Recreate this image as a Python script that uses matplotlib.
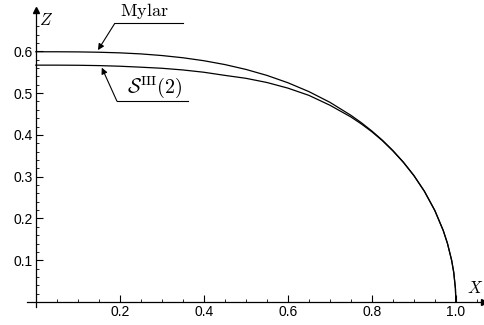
import numpy as np
import matplotlib
matplotlib.use("Agg")
import matplotlib.pyplot as plt

plt.rcParams['mathtext.fontset'] = 'cm'
plt.rcParams['font.family'] = ['Liberation Sans', 'DejaVu Sans']

# profile curves
x_vals = [0.0, 0.05, 0.1, 0.15, 0.2, 0.25, 0.3, 0.35, 0.4, 0.45, 0.5, 0.55,
          0.6, 0.65, 0.7, 0.75, 0.775, 0.8, 0.825, 0.85, 0.875, 0.9, 0.925,
          0.95, 0.97, 0.98, 0.99, 0.995, 0.999, 1.0]
z_mylar = [0.599, 0.599, 0.5987, 0.5979, 0.5964, 0.5939, 0.590, 0.5847,
           0.5776, 0.5684, 0.5568, 0.5425, 0.5249, 0.5037, 0.4781, 0.447,
           0.4292, 0.4093, 0.3874, 0.3627, 0.3349, 0.3029, 0.2652, 0.2189,
           0.1710, 0.1402, 0.0996, 0.0706, 0.0316, 0.0]
z_s3 = [0.567, 0.567, 0.5667, 0.5659, 0.5644, 0.5621, 0.5595, 0.5555,
        0.5500, 0.5425, 0.5355, 0.5255, 0.5120, 0.4947, 0.4711, 0.4430,
        0.4262, 0.4075, 0.3862, 0.3617, 0.3343, 0.3027, 0.2652, 0.2189,
        0.1710, 0.1402, 0.0996, 0.0706, 0.0316, 0.0]

x_ticks = [0.2, 0.4, 0.6, 0.8, 1.0]
y_ticks = [0.1, 0.2, 0.3, 0.4, 0.5, 0.6]

fig = plt.figure(figsize=(4.85, 3.25), dpi=100)
ax = fig.add_axes([27 / 485, 18 / 325, (484 - 27) / 485, (315 - 18) / 325])

ax.plot(x_vals, z_mylar, color='black', lw=0.9)
ax.plot(x_vals, z_s3, color='black', lw=0.9)

ax.set_xlim(-0.021, 1.067)
ax.set_ylim(-0.012, 0.699)

for side in ['top', 'right']:
    ax.spines[side].set_visible(False)
ax.spines['left'].set_position(('data', 0))
ax.spines['bottom'].set_position(('data', 0))
ax.spines['left'].set_linewidth(0.9)
ax.spines['bottom'].set_linewidth(0.9)

ax.set_xticks(x_ticks)
ax.set_xticklabels(['%.1f' % v for v in x_ticks])
ax.set_yticks(y_ticks)
ax.set_yticklabels(['%.1f' % v for v in y_ticks])
ax.set_xticks(np.arange(0.05, 1.06, 0.05), minor=True)
ax.set_yticks(np.arange(0.02, 0.67, 0.02), minor=True)
ax.tick_params(which='major', direction='in', length=5, width=0.8, labelsize=10, pad=2)
ax.tick_params(which='minor', direction='in', length=2.5, width=0.6)

# arrow heads on the axes
ax.plot(1, 0, '>k', ms=5, transform=ax.get_yaxis_transform(), clip_on=False)
ax.plot(0, 1, '^k', ms=5, transform=ax.get_xaxis_transform(), clip_on=False)

ax.text(0.024, 0.675, '$Z$', fontsize=12, ha='center', va='center')
ax.text(1.047, 0.033, '$X$', fontsize=12, ha='center', va='center')

# labels with leader lines
ax.plot([0.188, 0.35], [0.667, 0.667], color='black', lw=0.8)
ax.annotate('', xy=(0.148, 0.603), xytext=(0.188, 0.667),
            arrowprops=dict(arrowstyle='-|>', color='black', lw=0.8,
                            mutation_scale=9, shrinkA=0, shrinkB=0))
ax.text(0.258, 0.684, r'$\mathrm{Mylar}$', fontsize=13,
        ha='center', va='baseline')

ax.plot([0.193, 0.362], [0.481, 0.481], color='black', lw=0.8)
ax.annotate('', xy=(0.157, 0.561), xytext=(0.193, 0.481),
            arrowprops=dict(arrowstyle='-|>', color='black', lw=0.8,
                            mutation_scale=9, shrinkA=0, shrinkB=0))
ax.text(0.283, 0.500, r'$\mathcal{S}^{\mathrm{III}}(2)$', fontsize=14.5,
        ha='center', va='baseline')

fig.savefig('out.png', dpi=100)
